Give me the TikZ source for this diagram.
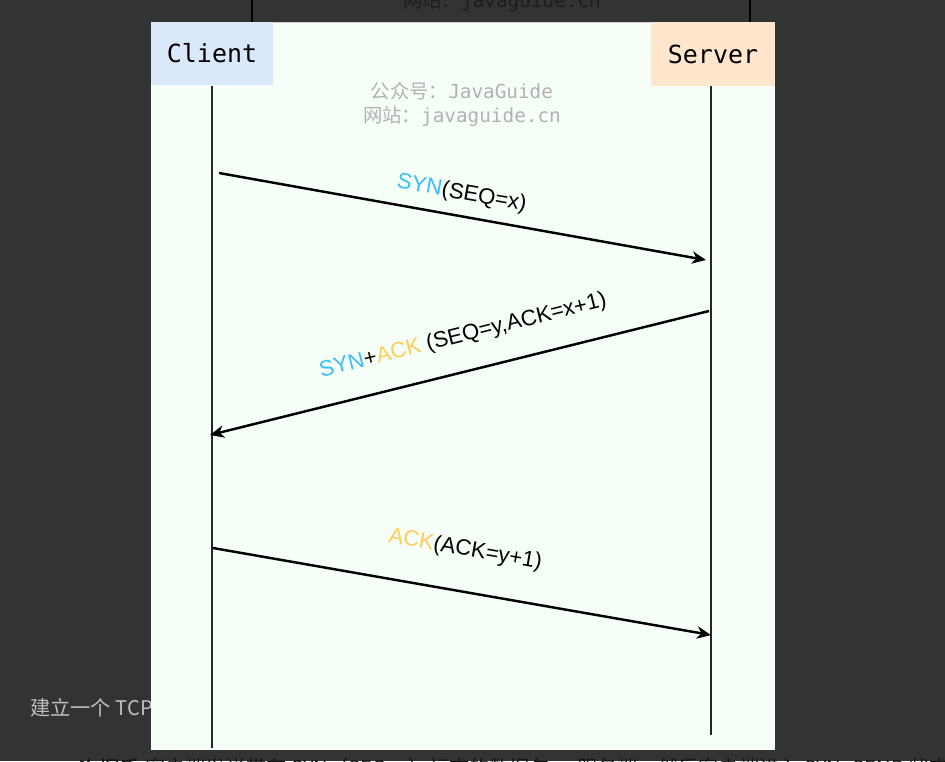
\documentclass[tikz,border=0pt]{standalone}
\usepackage{fontspec}
\setmainfont{Liberation Sans}
\setmonofont{DejaVu Sans Mono}
\newfontfamily\cjk[AutoFakeBold=2]{Noto Sans CJK SC}
\usetikzlibrary{arrows.meta}
\definecolor{pagebg}{RGB}{50,52,51}
\definecolor{panelbg}{RGB}{245,255,247}
\definecolor{clientbg}{RGB}{218,232,252}
\definecolor{serverbg}{RGB}{255,230,204}
\definecolor{synblue}{RGB}{60,190,250}
\definecolor{ackyellow}{RGB}{255,205,90}
\definecolor{markgray}{RGB}{178,178,178}
\newcommand{\SYN}{\textcolor{synblue}{SYN}}
\newcommand{\ACK}{\textcolor{ackyellow}{ACK}}

\begin{document}
\begin{tikzpicture}[x=0.02cm,y=-0.02cm,>={Stealth[length=8pt,width=7pt,inset=2.5pt]}]
				\tikzstyle{host} = [minimum height=1.27cm, inner sep=0pt, font=\ttfamily\fontsize{14.2}{16}\selectfont, text=black]
				\tikzstyle{client} = [host, fill=clientbg, minimum width=2.44cm]
				\tikzstyle{server} = [host, fill=serverbg, minimum width=2.48cm]
				\tikzstyle{life} = [line width=1.1pt, black!85]
				\tikzstyle{msg} = [->, line width=1.4pt, black]
				\tikzstyle{lbl} = [sloped, font=\fontsize{12.6}{14}\selectfont, text=black]
				\tikzstyle{wmark} = [text=markgray, font=\ttfamily\fontsize{11}{13}\selectfont]
				\tikzstyle{behind} = [font=\cjk\fontsize{11.5}{13}\selectfont, anchor=west]
				
				\clip (0,0) rectangle (945,761);
				\fill[pagebg] (0,0) rectangle (945,761);
				
				% page behind the picture
				\draw[line width=1pt, black] (252,0) -- (252,22);
				\draw[line width=1pt, black] (750,0) -- (750,22);
				\node[wmark, text=black!45!pagebg] (OldSite) at (502,1) {{\cjk 网站：}javaguide.cn};
				\node[behind, text=black!25!white] (Intro) at (24,708) {建立一个 TCP};
				\node[behind, text=black!60!pagebg] (StepOne) at (28,769) {• \textbf{一次握手}:客户端发送带有 SYN（SEQ=x）标志的数据包 -> 服务端，然后客户端进入 SYN\_SEND 状态};
				
				% the picture
				\fill[panelbg] (151,22) rectangle (775,750);
				\draw[black!20] (151,22.5) -- (775,22.5);
				\node[client] (Client) at (212,53.5) {Client};
				\node[server] (Server) at (713,54) {Server};
				\node[wmark] (MarkOne) at (462,91) {{\cjk 公众号：}JavaGuide};
				\node[wmark] (MarkTwo) at (462,116) {{\cjk 网站：}javaguide.cn};
				
				\coordinate (ClientEnd) at (212,748);
				\coordinate (ServerEnd) at (711,735);
				\draw[life] (Client.south -| ClientEnd) -- (ClientEnd);
				\draw[life] (Server.south -| ServerEnd) -- (ServerEnd);
				
				\coordinate (SynOut) at (219,173);
				\coordinate (SynIn) at (706,260);
				\coordinate (SynAckOut) at (709,311);
				\coordinate (SynAckIn) at (210,435);
				\coordinate (AckOut) at (213,548);
				\coordinate (AckIn) at (711,635);
				\draw[msg] (SynOut) -- node[lbl, pos=0.49, above=0.1cm] {\SYN(SEQ=x)} (SynIn);
				\draw[msg] (SynAckOut) -- node[lbl, pos=0.476, above=0.35cm] {\SYN+\ACK\ (SEQ=y,ACK=x+1)} (SynAckIn);
				\draw[msg] (AckOut) -- node[lbl, pos=0.492, above=0.48cm] {\ACK(ACK=y+1)} (AckIn);
				
\end{tikzpicture}
\end{document}
